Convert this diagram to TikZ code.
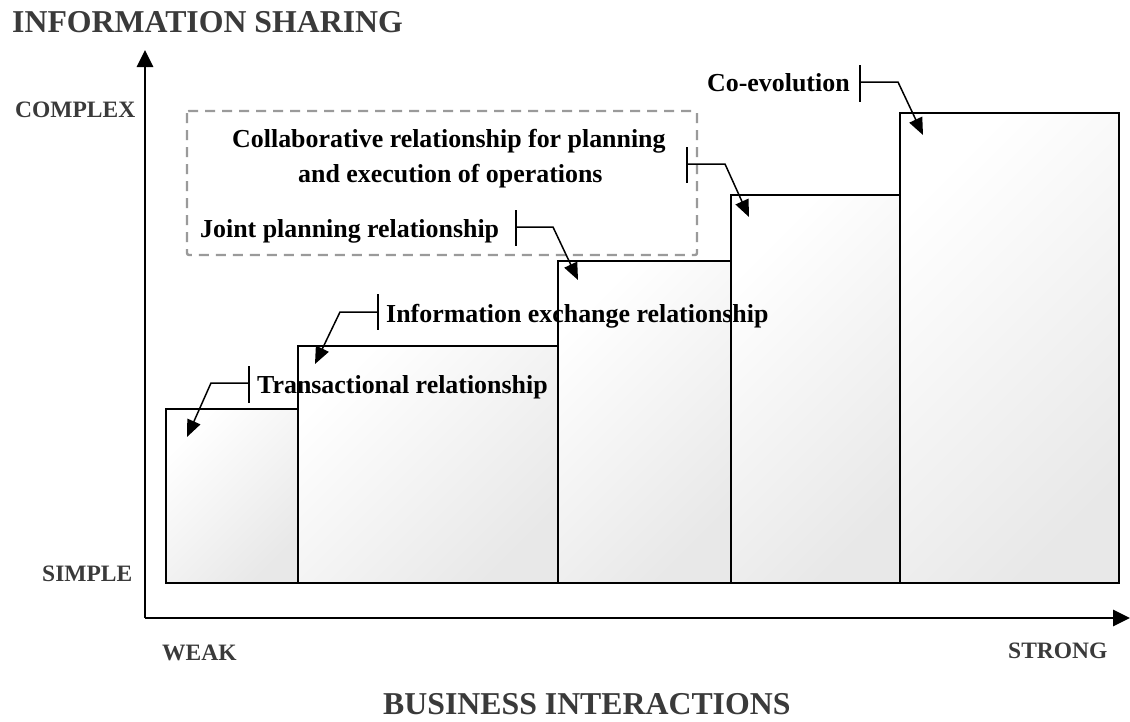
\documentclass[tikz,border=0pt]{standalone}
\usepackage{fontspec}
\setmainfont{Liberation Serif}
\usetikzlibrary{arrows.meta}
\definecolor{axtext}{HTML}{3A3A3A}
\definecolor{dashgray}{HTML}{9A9A9A}
\begin{document}
\begin{tikzpicture}[x=1pt,y=-1pt,
  lbl/.style={font=\bfseries\fontsize{25.9}{30}\selectfont, inner sep=0, anchor=base west, text=black},
  axlbl/.style={font=\bfseries\fontsize{23.5}{28}\selectfont, inner sep=0, anchor=base west, text=axtext},
  ttl/.style={font=\bfseries\fontsize{31.8}{36}\selectfont, inner sep=0, anchor=base west, text=axtext},
  stepbox/.style={draw=black, line width=1.9pt, top color=white, bottom color=black!9, shading angle=45},
  axisline/.style={line width=2.8pt, -{Triangle[length=17pt,width=16pt]}},
  callbar/.style={line width=1.5pt},
  callarrow/.style={line width=1.5pt, -{Triangle[length=17pt,width=14pt]}},
]
\useasboundingbox (0,0) rectangle (1130,721);
% steps
\draw[stepbox] (166,409) rectangle (298,583);
\draw[stepbox] (298,346) rectangle (558,583);
\draw[stepbox] (558,261) rectangle (731,583);
\draw[stepbox] (731,195) rectangle (900,583);
\draw[stepbox] (900,113) rectangle (1119,583);
% dashed group
\draw[dashgray, line width=2.4pt, dash pattern=on 10pt off 7pt, rounded corners=2pt] (187,111) rectangle (697,255);
% axes
\coordinate (O) at (145,618);
\coordinate (ytop) at (145,50);
\coordinate (xend) at (1130,618);
\draw[axisline] (O) -- (ytop);
\draw[axisline] (O) -- (xend);
% titles and axis labels
\node[ttl] (ttlY) at (12,32) {INFORMATION SHARING};
\node[ttl] (ttlX) at (383,714) {BUSINESS INTERACTIONS};
\node[axlbl] (complex) at (15,117) {COMPLEX};
\node[axlbl] (simple) at (42,581) {SIMPLE};
\node[axlbl] (weak) at (162,660) {WEAK};
\node[axlbl] (strong) at (1008,658) {STRONG};
% labels
\node[lbl] (trans) at (257,393) {Transactional relationship};
\node[lbl] (info) at (386,322) {Information exchange relationship};
\node[lbl] (joint) at (200,237) {Joint planning relationship};
\node[lbl] (collab1) at (232,147) {Collaborative relationship for planning};
\node[lbl] (collab2) at (298,182) {and execution of operations};
\node[lbl] (coevo) at (707,91) {Co-evolution};
% callouts
\coordinate (t1) at (249,366); \coordinate (t2) at (249,403); \coordinate (tm) at (249,383);
\coordinate (tk) at (211,383); \coordinate (tt) at (187,437);
\draw[callbar] (t1) -- (t2);
\draw[callarrow] (tm) -- (tk) -- (tt);
\coordinate (i1) at (378,294); \coordinate (i2) at (378,330); \coordinate (im) at (378,312);
\coordinate (ik) at (340,312); \coordinate (it) at (315,364);
\draw[callbar] (i1) -- (i2);
\draw[callarrow] (im) -- (ik) -- (it);
\coordinate (j1) at (516,210); \coordinate (j2) at (516,246); \coordinate (jm) at (516,227);
\coordinate (jk) at (553,227); \coordinate (jt) at (578,280);
\draw[callbar] (j1) -- (j2);
\draw[callarrow] (jm) -- (jk) -- (jt);
\coordinate (c1) at (687,147); \coordinate (c2) at (687,183); \coordinate (cm) at (687,164);
\coordinate (ck) at (725,164); \coordinate (ct) at (749,217);
\draw[callbar] (c1) -- (c2);
\draw[callarrow] (cm) -- (ck) -- (ct);
\coordinate (e1) at (860,65); \coordinate (e2) at (860,102); \coordinate (em) at (860,82);
\coordinate (ek) at (898,82); \coordinate (et) at (923,135);
\draw[callbar] (e1) -- (e2);
\draw[callarrow] (em) -- (ek) -- (et);
\end{tikzpicture}
\end{document}
